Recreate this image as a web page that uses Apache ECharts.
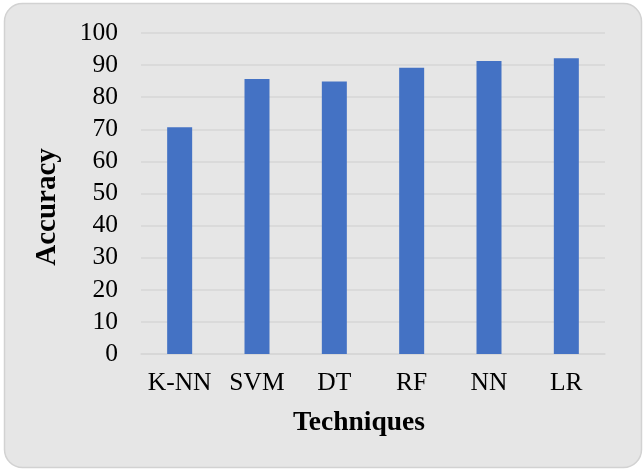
<!DOCTYPE html>
<html>
<head>
<meta charset="utf-8">
<script src="https://cdn.jsdelivr.net/npm/echarts@6/dist/echarts.min.js"></script>
<style>
  html, body { margin: 0; padding: 0; background: #ffffff; }
  #chart { width: 644px; height: 471px; }
</style>
</head>
<body>
<div id="chart"></div>
<script>
// Accuracy of each classification technique
const techniques = ['K-NN', 'SVM', 'DT', 'RF', 'NN', 'LR'];
const accuracy = [70.6, 85.7, 84.9, 89.2, 91.3, 92.1];
const yTicks = { min: 0, max: 100, interval: 10 };

const serif = '"Liberation Serif", "Times New Roman", serif';

const chart = echarts.init(document.getElementById('chart'), null, { renderer: 'canvas' });

chart.setOption({
  animation: false,
  backgroundColor: '#ffffff',
  graphic: [
    {
      type: 'rect',
      z: -10,
      shape: { x: 4.5, y: 3.5, width: 637, height: 464, r: 18 },
      style: { fill: '#e6e6e6', stroke: '#d2d2d2', lineWidth: 1.5 }
    },
    {
      type: 'text',
      x: 359, y: 423,
      style: {
        text: 'Techniques', font: 'bold 27.5px ' + serif, fill: '#000000',
        align: 'center', verticalAlign: 'middle'
      }
    },
    {
      type: 'text',
      x: 48, y: 207, rotation: Math.PI / 2,
      style: {
        text: 'Accuracy', font: 'bold 29px ' + serif, fill: '#000000',
        align: 'center', verticalAlign: 'middle'
      }
    }
  ],
  grid: { left: 141, right: 39, top: 33, bottom: 117, containLabel: false },
  xAxis: {
    type: 'category',
    data: techniques,
    axisLine: { show: true, lineStyle: { color: '#d6d6d6', width: 1.5 } },
    axisTick: { show: false },
    axisLabel: { interval: 0, fontFamily: serif, fontSize: 25.5, color: '#000000', margin: 16 }
  },
  yAxis: {
    type: 'value',
    min: yTicks.min, max: yTicks.max, interval: yTicks.interval,
    axisLine: { show: false },
    axisTick: { show: false },
    splitLine: { lineStyle: { color: '#d6d6d6', width: 1.5 } },
    axisLabel: { fontFamily: serif, fontSize: 25.5, color: '#000000', margin: 23 }
  },
  series: [{
    type: 'bar',
    data: accuracy,
    barWidth: 25,
    itemStyle: { color: '#4472c4' }
  }]
});
</script>
</body>
</html>
